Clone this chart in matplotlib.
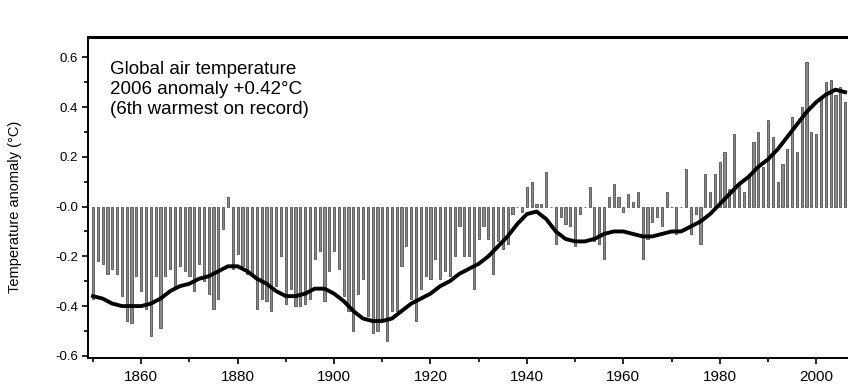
import numpy as np
import matplotlib
matplotlib.use("Agg")
import matplotlib.pyplot as plt
from matplotlib.ticker import MultipleLocator

plt.rcParams['font.family'] = ['Liberation Sans', 'DejaVu Sans']

# anomalías anuales (°C), 1850-2006
years = np.arange(1850, 2007)
anomaly = [
    -0.37, -0.22, -0.23, -0.27, -0.25, -0.27, -0.36, -0.46, -0.47, -0.28,
    -0.34, -0.41, -0.52, -0.28, -0.49, -0.28, -0.25, -0.32, -0.24, -0.26,
    -0.28, -0.34, -0.23, -0.30, -0.35, -0.41, -0.37, -0.09, 0.04, -0.25,
    -0.19, -0.24, -0.27, -0.27, -0.41, -0.37, -0.38, -0.42, -0.32, -0.20,
    -0.39, -0.33, -0.40, -0.40, -0.39, -0.37, -0.21, -0.18, -0.38, -0.26,
    -0.18, -0.25, -0.36, -0.42, -0.50, -0.35, -0.29, -0.44, -0.51, -0.50,
    -0.46, -0.54, -0.42, -0.42, -0.24, -0.16, -0.37, -0.46, -0.33, -0.28,
    -0.29, -0.21, -0.29, -0.26, -0.28, -0.20, -0.08, -0.20, -0.20, -0.33,
    -0.13, -0.08, -0.13, -0.27, -0.14, -0.17, -0.15, -0.03, 0.00, -0.02,
    0.08, 0.10, 0.01, 0.01, 0.14, 0.00, -0.15, -0.04, -0.07, -0.08,
    -0.16, -0.03, 0.00, 0.08, -0.14, -0.15, -0.21, 0.04, 0.09, 0.04,
    -0.02, 0.05, 0.02, 0.06, -0.21, -0.13, -0.06, -0.04, -0.08, 0.06,
    0.00, -0.11, 0.00, 0.15, -0.11, -0.03, -0.15, 0.13, 0.06, 0.13,
    0.18, 0.22, 0.07, 0.29, 0.09, 0.06, 0.13, 0.26, 0.30, 0.16,
    0.35, 0.28, 0.10, 0.17, 0.23, 0.36, 0.22, 0.40, 0.58, 0.30,
    0.29, 0.44, 0.50, 0.51, 0.45, 0.48, 0.42,
]

# curva suavizada leída cada 2 años
smooth_years = np.arange(1850, 2007, 2)
smooth = [
    -0.36, -0.37, -0.39, -0.40, -0.40, -0.40, -0.39, -0.37, -0.34, -0.32,
    -0.31, -0.29, -0.28, -0.26, -0.24, -0.24, -0.26, -0.29, -0.31, -0.34,
    -0.36, -0.36, -0.35, -0.33, -0.33, -0.35, -0.38, -0.42, -0.45, -0.46,
    -0.46, -0.45, -0.42, -0.39, -0.37, -0.35, -0.32, -0.30, -0.27, -0.25,
    -0.23, -0.20, -0.16, -0.12, -0.07, -0.03, -0.02, -0.05, -0.10, -0.13,
    -0.14, -0.14, -0.13, -0.11, -0.10, -0.10, -0.11, -0.12, -0.12, -0.11,
    -0.10, -0.10, -0.08, -0.06, -0.03, 0.01, 0.05, 0.09, 0.12, 0.16,
    0.19, 0.23, 0.28, 0.33, 0.38, 0.42, 0.45, 0.47, 0.46,
]

ytick_vals = [-0.6, -0.4, -0.2, 0.0, 0.2, 0.4, 0.6]
ytick_labels = ["-0.6", "-0.4", "-0.2", "-0.0", "0.2", "0.4", "0.6"]

fig = plt.figure(figsize=(8.48, 3.86), dpi=100)
ax = fig.add_axes([0.104, 0.073, 0.896, 0.83])

ax.bar(years, anomaly, width=0.45, color="#8a8a8a", edgecolor="#2a2a2a",
       linewidth=0.45)
ax.plot(smooth_years, smooth, color="black", linewidth=2.8)

ax.set_xlim(1849, 2006.6)
ax.set_ylim(-0.608, 0.68)

ax.xaxis.set_major_locator(MultipleLocator(20))
ax.xaxis.set_minor_locator(MultipleLocator(10))
ax.set_yticks(ytick_vals, ytick_labels)
ax.yaxis.set_minor_locator(MultipleLocator(0.1))
ax.tick_params(axis="both", which="both", direction="out", width=1.2)
ax.tick_params(axis="both", which="major", length=4)
ax.tick_params(axis="both", which="minor", length=3)
ax.tick_params(axis="x", labelsize=11, pad=5)
ax.tick_params(axis="y", labelsize=9.5)

for s in ["left", "bottom"]:
    ax.spines[s].set_linewidth(1.4)
ax.spines["top"].set_linewidth(2.2)
ax.spines["right"].set_visible(False)

ax.set_ylabel("Temperature anomaly (°C)", fontsize=10.5)
ax.yaxis.set_label_coords(-0.087, 0.47)

ax.text(0.029, 0.925,
        "Global air temperature\n2006 anomaly +0.42°C\n(6th warmest on record)",
        transform=ax.transAxes, va="top", ha="left", fontsize=13.5,
        linespacing=1.2)

fig.savefig("out.png", dpi=100)
